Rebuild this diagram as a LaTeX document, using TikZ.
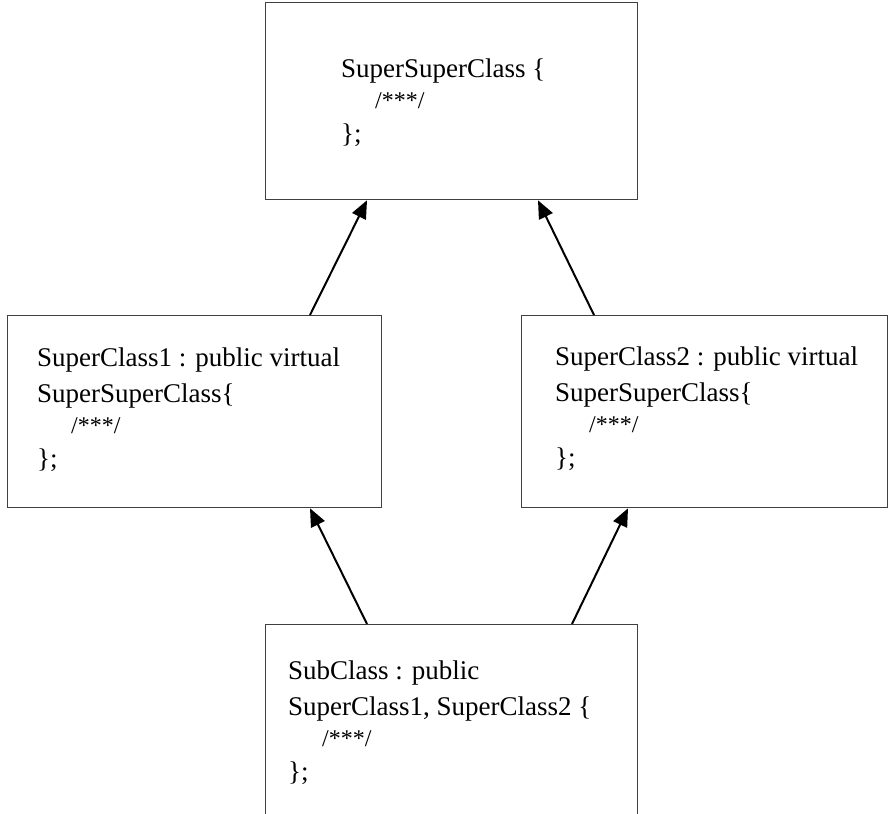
\documentclass[tikz,border=0pt]{standalone}
\usepackage{fontspec}
\setmainfont{Liberation Serif}
\usetikzlibrary{arrows.meta, calc}

\begin{document}
\begin{tikzpicture}[x=1pt, y=-1pt,
    classbox/.style={draw=borderColour, line width=1.3pt, rectangle, inner sep=0pt, anchor=north west},
    classtext/.style={inner sep=0pt, anchor=base west, align=left, font=\fontsize{27}{36}\selectfont},
    inherit/.style={-{Triangle[length=18pt, width=15pt]}, line width=2pt, black}]
    % Define indent of the body line
    \def\bodyIndent{34pt}
    \newcommand{\classbody}{\hspace*{\bodyIndent}{\fontsize{24}{30}\selectfont /***/}}

    \definecolor{borderColour}{HTML}{404040}

    % Fix the page size
    \useasboundingbox (0,0) rectangle (889,814);
    \clip (0,0) rectangle (889,814);

    % Draw the class boxes
    \node[classbox, minimum width=372pt, minimum height=197pt] (superSuper) at (265,2) {};
    \node[classbox, minimum width=374pt, minimum height=192pt] (superOne) at (7,315) {};
    \node[classbox, minimum width=366pt, minimum height=192pt] (superTwo) at (521,315) {};
    \node[classbox, minimum width=372pt, minimum height=300pt] (sub) at (265,624) {};

    % Write the class declarations (placed at the baseline of the last line)
    \node[classtext] (superSuperText) at (341,142)
        {SuperSuperClass \{\\[-5pt] \classbody\\[-2pt] \};};
    \node[classtext] (superOneText) at (37,467)
        {SuperClass1 : public virtual\\ SuperSuperClass\{\\[-5pt] \classbody\\[-2pt] \};};
    \node[classtext] (superTwoText) at (555,466)
        {SuperClass2 : public virtual\\ SuperSuperClass\{\\[-5pt] \classbody\\[-2pt] \};};
    \node[classtext] (subText) at (288,780)
        {SubClass : public\\ SuperClass1, SuperClass2 \{\\[-5pt] \classbody\\[-2pt] \};};

    % Draw the inheritance arrows
    \draw[inherit] ([xshift=303pt]superOne.north west) -- ([xshift=102pt]superSuper.south west);
    \draw[inherit] ([xshift=73pt]superTwo.north west) -- ([xshift=273pt]superSuper.south west);
    \draw[inherit] ([xshift=102pt]sub.north west) -- ([xshift=303pt]superOne.south west);
    \draw[inherit] ([xshift=307pt]sub.north west) -- ([xshift=107pt]superTwo.south west);

\end{tikzpicture}
\end{document}
